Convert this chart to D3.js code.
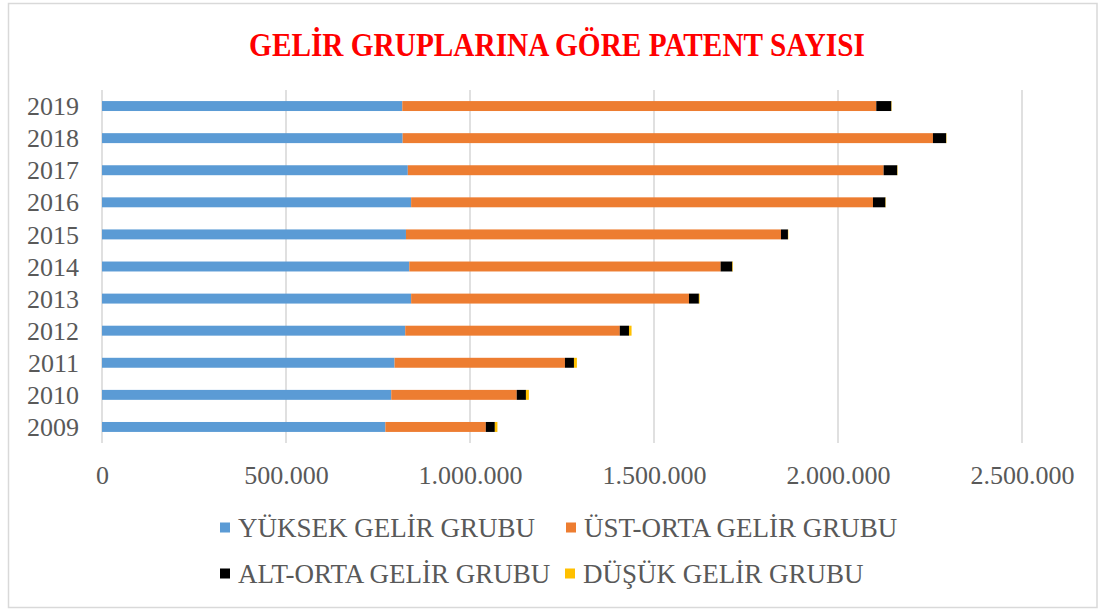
<!DOCTYPE html>
<html>
<head>
<meta charset="utf-8">
<script src="https://cdn.jsdelivr.net/npm/d3@7"></script>
<style>
  html, body { margin: 0; padding: 0; background: #fff; }
  svg { display: block; }
</style>
</head>
<body>
<svg id="chart" width="1105" height="610"></svg>
<script>
const years = ["2009","2010","2011","2012","2013","2014","2015","2016","2017","2018","2019"];
const yuksek  = [770000, 786000, 795000, 824000, 840000, 835000, 826000, 840000, 831000, 817000, 816000];
const ustOrta = [273000, 341000, 463000, 583000, 755000, 846000, 1019000, 1255000, 1293000, 1441000, 1288000];
const altOrta = [24500, 25000, 24500, 25000, 27000, 32000, 19000, 34000, 37000, 36000, 41000];
const dusuk   = [7000, 8000, 8000, 7000, 2000, 1500, 1000, 1000, 1000, 1000, 1000];
const seriesNames = ["YÜKSEK GELİR GRUBU", "ÜST-ORTA GELİR GRUBU", "ALT-ORTA GELİR GRUBU", "DÜŞÜK GELİR GRUBU"];
const seriesColors = ["#5b9bd5", "#ed7d31", "#000000", "#ffc000"];
const xTicks = [0, 500000, 1000000, 1500000, 2000000, 2500000];
const titleText = "GELİR GRUPLARINA GÖRE PATENT SAYISI";

const keys = ["y", "u", "a", "d"];
const rows = years.map((yr, i) => ({ year: yr, y: yuksek[i], u: ustOrta[i], a: altOrta[i], d: dusuk[i] }));
const stacked = d3.stack().keys(keys)(rows);

const svg = d3.select("#chart");
const font = "'Liberation Serif', 'Times New Roman', serif";
const textGray = "#595959";

// outer border
svg.append("rect").attr("x", 8.5).attr("y", 3.5).attr("width", 1088.5).attr("height", 604)
  .attr("fill", "#fff").attr("stroke", "#d9d9d9").attr("stroke-width", 1.5);

// title
svg.append("text").attr("transform", "translate(557,56) scale(1,1.15)").attr("text-anchor", "middle")
  .attr("font-family", font).attr("font-weight", "bold").attr("font-size", 29.3)
  .attr("fill", "#ff0000").text(titleText);

const x = d3.scaleLinear().domain([0, 2500000]).range([102, 1022]);
const y = d3.scaleBand().domain(years.slice().reverse()).range([90, 443]).paddingInner(0.69).paddingOuter(0.345);

// gridlines
svg.append("g").selectAll("line").data(xTicks).join("line")
  .attr("x1", d => x(d)).attr("x2", d => x(d)).attr("y1", 90).attr("y2", 443)
  .attr("stroke", "#d9d9d9").attr("stroke-width", 1.6);

// bars
svg.append("g").selectAll("g").data(stacked).join("g")
  .attr("fill", (d, i) => seriesColors[i])
  .selectAll("rect").data(d => d).join("rect")
  .attr("x", d => x(d[0]))
  .attr("width", d => Math.max(0, x(d[1]) - x(d[0])))
  .attr("y", d => y(d.data.year))
  .attr("height", y.bandwidth());

// y axis labels
const yAxis = d3.axisLeft(y).tickSize(0).tickPadding(0);
const gy = svg.append("g").attr("transform", "translate(79,0)").call(yAxis);
gy.select(".domain").remove();
gy.selectAll("text").attr("font-family", font).attr("font-size", 26).attr("fill", textGray)
  .attr("dy", "0.35em");

// x axis labels
const fmt = v => d3.format(",")(v).replace(/,/g, ".");
const xAxis = d3.axisBottom(x).tickValues(xTicks).tickFormat(fmt).tickSize(0).tickPadding(0);
const gx = svg.append("g").attr("transform", "translate(0,466)").call(xAxis);
gx.select(".domain").remove();
gx.selectAll("text").attr("font-family", font).attr("font-size", 26).attr("fill", textGray)
  .attr("dy", "0.71em");

// legend
const legendPos = [[220, 528], [566, 528], [220, 574], [565, 574]];
const lg = svg.append("g");
seriesNames.forEach((name, i) => {
  const [lx, ly] = legendPos[i];
  lg.append("rect").attr("x", lx).attr("y", ly - 5.5).attr("width", 10).attr("height", 10)
    .attr("fill", seriesColors[i]);
  lg.append("text").attr("x", lx + 18).attr("y", ly).attr("dy", "0.35em")
    .attr("font-family", font).attr("font-size", 27).attr("fill", textGray).text(name);
});
</script>
</body>
</html>
